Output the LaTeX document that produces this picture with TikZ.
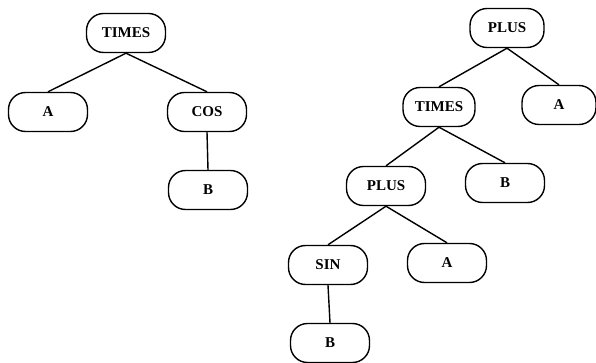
\documentclass[tikz,border=0pt]{standalone}
\usepackage{fontspec}
\setmainfont{Liberation Serif}
\usepackage{tikz}
\usetikzlibrary{positioning}

\begin{document}
\begin{tikzpicture}[
    x=1pt, y=-1pt,
    term/.style={rectangle, rounded corners=17pt, draw=black, line width=1.4pt, minimum height=39pt, minimum width=79pt, align=center, font=\fontsize{15}{15}\selectfont\bfseries},
    edge/.style={draw=black, line width=1.4pt}
]
\useasboundingbox (0,0) rectangle (596,363);

% Left tree
\node[term] (ltimes) at (126,33) {TIMES};
\node[term] (la) at (48,112) {A};
\node[term] (lcos) at (207,112) {COS};
\node[term] (lb) at (208,190) {B};

% Right tree
\node[term, minimum width=74pt] (rplus) at (507,28) {PLUS};
\node[term, minimum width=72pt] (rtimes) at (439,107) {TIMES};
\node[term, minimum width=74pt] (ra) at (559,105) {A};
\node[term] (rplus2) at (386,186) {PLUS};
\node[term] (rb) at (505,183) {B};
\node[term] (rsin) at (328,265) {SIN};
\node[term] (ra2) at (447,263) {A};
\node[term] (rb2) at (330,343) {B};

% Connecting lines
\foreach \p/\c in {ltimes/la, ltimes/lcos, lcos/lb, rplus/rtimes, rplus/ra, rtimes/rplus2, rtimes/rb, rplus2/rsin, rplus2/ra2, rsin/rb2}{
  \draw[edge] (\p.south) -- (\c.north);
}

\end{tikzpicture}
\end{document}
